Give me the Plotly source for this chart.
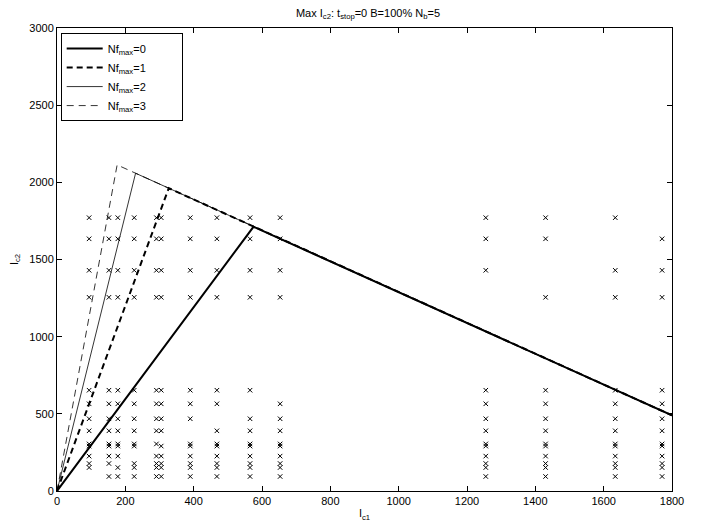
import plotly.graph_objects as go

# Candidate current values (same set used for I_c1 and I_c2 grid)
levels = [94, 152, 178, 226, 291, 305, 390, 468, 565, 653, 1255, 1430, 1634, 1771]

# Envelope lines for each Nf_max
nf0_x = [0, 575, 1800]
nf0_y = [0, 1712, 490]
nf1_x = [0, 327, 1800]
nf1_y = [0, 1962, 490]
nf2_x = [0, 230, 1800]
nf2_y = [0, 2059, 490]
nf3_x = [0, 176, 1800]
nf3_y = [0, 2113, 490]

legend_names = ["Nf<sub>max</sub>=0", "Nf<sub>max</sub>=1", "Nf<sub>max</sub>=2", "Nf<sub>max</sub>=3"]

x_ticks = [0, 200, 400, 600, 800, 1000, 1200, 1400, 1600, 1800]
y_ticks = [0, 500, 1000, 1500, 2000, 2500, 3000]

# grid points (all pairs with distinct values)
px, py = [], []
for a in levels:
    for b in levels:
        if a != b:
            px.append(a)
            py.append(b)

fig = go.Figure()
styles = [
    (nf0_x, nf0_y, 2.0, "solid"),
    (nf1_x, nf1_y, 2.0, "6px,4px"),
    (nf2_x, nf2_y, 0.8, "solid"),
    (nf3_x, nf3_y, 0.8, "7px,5px"),
]
for (xs, ys, w, d), name in zip(styles, legend_names):
    fig.add_trace(go.Scatter(x=xs, y=ys, mode="lines", name=name + "&nbsp;" * 10,
                             line=dict(color="black", width=w, dash=d)))

fig.add_trace(go.Scatter(x=px, y=py, mode="markers", showlegend=False,
                         marker=dict(symbol="x-thin", size=4.5, color="black",
                                     line=dict(width=1, color="black"))))

fam = "Arial, Liberation Sans, sans-serif"
font = dict(family=fam, size=11, color="black")
axis_common = dict(showline=True, linecolor="black", linewidth=1, mirror="ticks",
                   ticks="inside", ticklen=5, tickcolor="black", showgrid=False,
                   zeroline=False, tickfont=font, ticklabeloverflow="allow",
                   automargin=False)
fig.update_layout(
    width=705, height=529,
    margin=dict(l=49, r=41, t=20, b=46),
    paper_bgcolor="white", plot_bgcolor="white",
    font=font,
    title=dict(text="Max I<sub>c2</sub>: t<sub>stop</sub>=0 B=100% N<sub>b</sub>=5",
               x=(364.5 - 8) / 705, xanchor="center", y=1 - (13 - 8) / 529, yanchor="middle",
               xref="paper", font=dict(family=fam, size=11)),
    xaxis=dict(range=[0, 1800], tickvals=x_ticks, **axis_common,
               title=dict(text="I<sub>c1</sub>", font=font, standoff=3)),
    yaxis=dict(range=[0, 3000], tickvals=y_ticks, **axis_common,
               title=dict(text="I<sub>c2</sub>", font=font, standoff=15)),
    legend=dict(x=0.006, y=0.989, xanchor="left", yanchor="top",
                bordercolor="black", borderwidth=1, bgcolor="white",
                font=dict(family=fam, size=11, color="black"),
                tracegroupgap=0, itemwidth=36),
    showlegend=True,
)

fig.write_html("out.html")
